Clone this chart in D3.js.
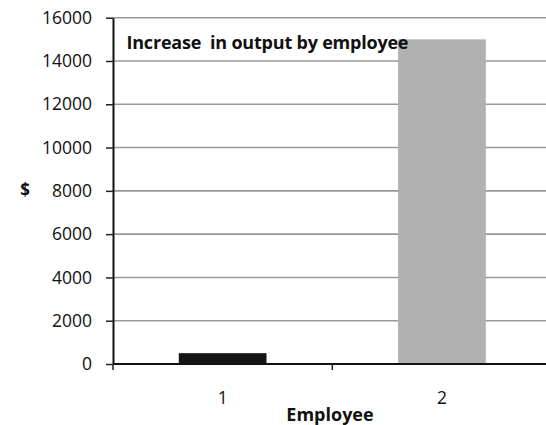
<!DOCTYPE html>
<html>
<head>
<meta charset="utf-8">
<script src="https://cdn.jsdelivr.net/npm/d3@7"></script>
<style>
  html, body { margin: 0; padding: 0; background: #fff; overflow: hidden; }
  svg { display: block; font-family: "Open Sans", "Liberation Sans", sans-serif; }
</style>
</head>
<body>
<svg id="chart" width="546" height="425"></svg>
<script>
// Increase in output per employee
const employees = ["1", "2"];
const increase = [500, 15000];
const barColors = ["#151515", "#b1b1b1"];
const yTicks = [0, 2000, 4000, 6000, 8000, 10000, 12000, 14000, 16000];

const svg = d3.select("#chart");
const W = 546, H = 425;
// the plot area runs a little past the right edge of the canvas
const plot = { left: 113, right: 551.6, top: 17.7, bottom: 364 };

const x = d3.scaleBand()
  .domain(employees)
  .range([plot.left, plot.right])
  .paddingInner(0.6)
  .paddingOuter(0.3);

const y = d3.scaleLinear()
  .domain([0, 16000])
  .range([plot.bottom, plot.top]);

// horizontal gridlines
svg.append("g")
  .selectAll("line")
  .data(yTicks.filter(d => d > 0))
  .join("line")
  .attr("x1", plot.left)
  .attr("x2", plot.right)
  .attr("y1", d => y(d))
  .attr("y2", d => y(d))
  .attr("stroke", "#999")
  .attr("stroke-width", 1.6);

// bars
svg.append("g")
  .selectAll("rect")
  .data(employees.map((e, i) => ({ e, v: increase[i], c: barColors[i] })))
  .join("rect")
  .attr("x", d => x(d.e))
  .attr("width", x.bandwidth())
  .attr("y", d => y(d.v))
  .attr("height", d => y(0) - y(d.v))
  .attr("fill", d => d.c);

// y axis
const yAxis = svg.append("g")
  .attr("transform", `translate(${plot.left},0)`)
  .call(d3.axisLeft(y).tickValues(yTicks).tickSize(7).tickSizeOuter(0).tickPadding(14).tickFormat(d3.format("d")));
yAxis.select(".domain").attr("stroke", "#111").attr("stroke-width", 2);
yAxis.selectAll(".tick line").attr("stroke", "#222").attr("stroke-width", 1.5);
yAxis.selectAll("text").attr("font-size", 17.5).attr("fill", "#111").attr("font-family", "Open Sans, sans-serif");

// x axis with ticks on the category boundaries
const xAxisG = svg.append("g").attr("transform", `translate(0,${y(0)})`);
xAxisG.append("line")
  .attr("x1", plot.left).attr("x2", plot.right)
  .attr("stroke", "#111").attr("stroke-width", 2);
const bounds = [x(employees[0]) - x.step() * x.paddingInner() / 2];
employees.forEach(e => bounds.push(x(e) + x.bandwidth() + x.step() * x.paddingInner() / 2));
xAxisG.selectAll("line.tk")
  .data(bounds)
  .join("line")
  .attr("class", "tk")
  .attr("x1", d => d).attr("x2", d => d)
  .attr("y1", 0).attr("y2", 6)
  .attr("stroke", "#222").attr("stroke-width", 1.5);
xAxisG.selectAll("text")
  .data(employees)
  .join("text")
  .attr("x", d => x(d) + x.bandwidth() / 2)
  .attr("y", 40)
  .attr("text-anchor", "middle")
  .attr("font-size", 17.5)
  .attr("fill", "#111")
  .text(d => d);

// axis titles
svg.append("text")
  .attr("x", 330)
  .attr("y", 421)
  .attr("text-anchor", "middle")
  .attr("font-size", 18)
  .attr("font-weight", "bold")
  .attr("fill", "#111")
  .text("Employee");

svg.append("text")
  .attr("x", 25)
  .attr("y", 196)
  .attr("text-anchor", "middle")
  .attr("font-size", 17)
  .attr("font-weight", "bold")
  .attr("fill", "#111")
  .text("$");

// chart title inside the plot area
svg.append("text")
  .attr("x", 126.5)
  .attr("y", 48.5)
  .attr("font-size", 18)
  .attr("font-weight", "bold")
  .attr("fill", "#111")
  .attr("textLength", 282)
  .attr("lengthAdjust", "spacing")
  .style("white-space", "pre")
  .text("Increase  in output by employee");
</script>
</body>
</html>
